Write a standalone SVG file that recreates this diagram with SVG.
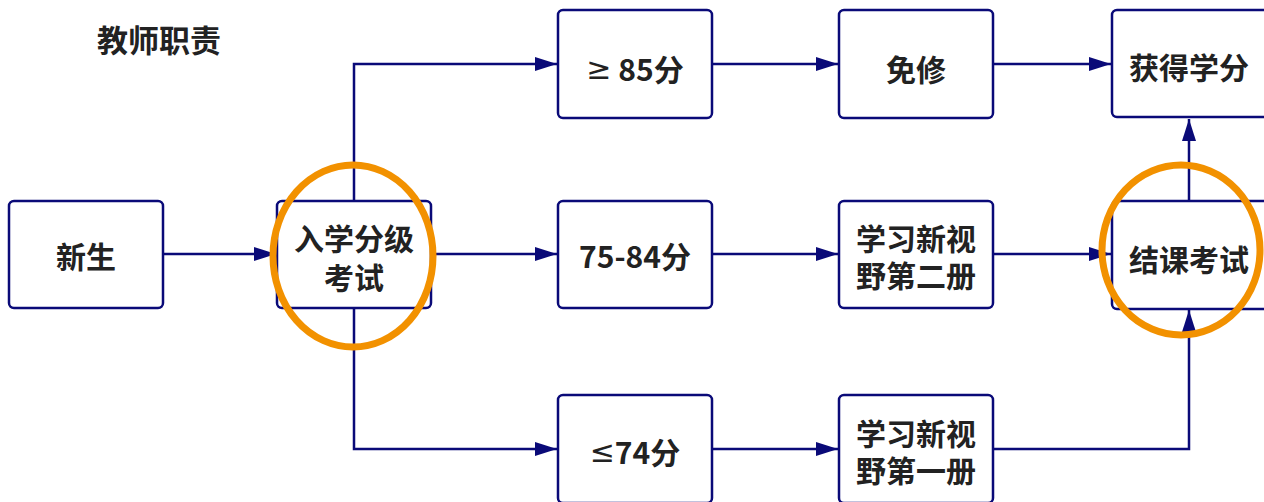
<svg xmlns="http://www.w3.org/2000/svg" width="1264" height="502" viewBox="0 0 1264 502">
<style>
.box{fill:#fff;stroke:#0a0a78;stroke-width:2.5}
.t{font-family:"Noto Sans CJK SC","Noto Sans",sans-serif;font-weight:bold;font-size:30px;fill:#222;text-anchor:middle;dominant-baseline:central}
.m{font-family:"DejaVu Sans","Noto Sans",sans-serif;font-weight:normal}
.c{fill:none;stroke:#0a0a78;stroke-width:2.5}
.ring{fill:none;stroke:#f29100;stroke-width:7}
</style>
<defs>
<marker id="ah" viewBox="0 0 22 14" refX="22" refY="7" markerWidth="22" markerHeight="14" markerUnits="userSpaceOnUse" orient="auto">
<path d="M0,0 L22,7 L0,14 z" fill="#0a0a78"/>
</marker>
</defs>
<rect width="1264" height="502" fill="#fff"/>
<text class="t" x="159" y="38" style="font-size:31px">教师职责</text>
<g id="connectors">
<path class="c" d="M163,254 H276" marker-end="url(#ah)"/>
<path class="c" d="M354,201 V64 H557" marker-end="url(#ah)"/>
<path class="c" d="M431,254 H557" marker-end="url(#ah)"/>
<path class="c" d="M354,308 V449 H557" marker-end="url(#ah)"/>
<path class="c" d="M712,64 H838" marker-end="url(#ah)"/>
<path class="c" d="M993,64 H1111" marker-end="url(#ah)"/>
<path class="c" d="M712,254 H838" marker-end="url(#ah)"/>
<path class="c" d="M993,254 H1111" marker-end="url(#ah)"/>
<path class="c" d="M712,449 H838" marker-end="url(#ah)"/>
<path class="c" d="M993,449 H1189 V310" marker-end="url(#ah)"/>
<path class="c" d="M1189,201 V119" marker-end="url(#ah)"/>
</g>
<g id="n1"><rect class="box" x="9" y="201" width="154" height="107" rx="5"/><text class="t" x="86" y="255">新生</text></g>
<g id="n2"><rect class="box" x="277" y="201" width="154" height="107" rx="5"/><text class="t" x="354" y="237">入学分级<tspan x="354" dy="39">考试</tspan></text></g>
<g id="n3"><rect class="box" x="558" y="10" width="154" height="108" rx="5"/><text class="t" x="635" y="68"><tspan class="m">≥</tspan> 85分</text></g>
<g id="n4"><rect class="box" x="558" y="201" width="154" height="107" rx="5"/><text class="t" x="635" y="255">75-84分</text></g>
<g id="n5"><rect class="box" x="558" y="395" width="154" height="108" rx="5"/><text class="t" x="635" y="451"><tspan class="m">≤</tspan>74分</text></g>
<g id="n6"><rect class="box" x="839" y="10" width="154" height="108" rx="5"/><text class="t" x="916" y="68">免修</text></g>
<g id="n7"><rect class="box" x="839" y="201" width="154" height="107" rx="5"/><text class="t" x="916" y="237">学习新视<tspan x="916" dy="37">野第二册</tspan></text></g>
<g id="n8"><rect class="box" x="839" y="395" width="154" height="108" rx="5"/><text class="t" x="916" y="432">学习新视<tspan x="916" dy="37">野第一册</tspan></text></g>
<g id="n9"><rect class="box" x="1112" y="10" width="156" height="107" rx="5"/><text class="t" x="1189" y="66">获得学分</text></g>
<g id="n10"><rect class="box" x="1112" y="201" width="156" height="108" rx="5"/><text class="t" x="1189" y="258">结课考试</text></g>
<g id="rings">
<ellipse class="ring" cx="353" cy="256" rx="80" ry="91"/>
<ellipse class="ring" cx="1181" cy="250" rx="79" ry="85"/>
</g>
</svg>
